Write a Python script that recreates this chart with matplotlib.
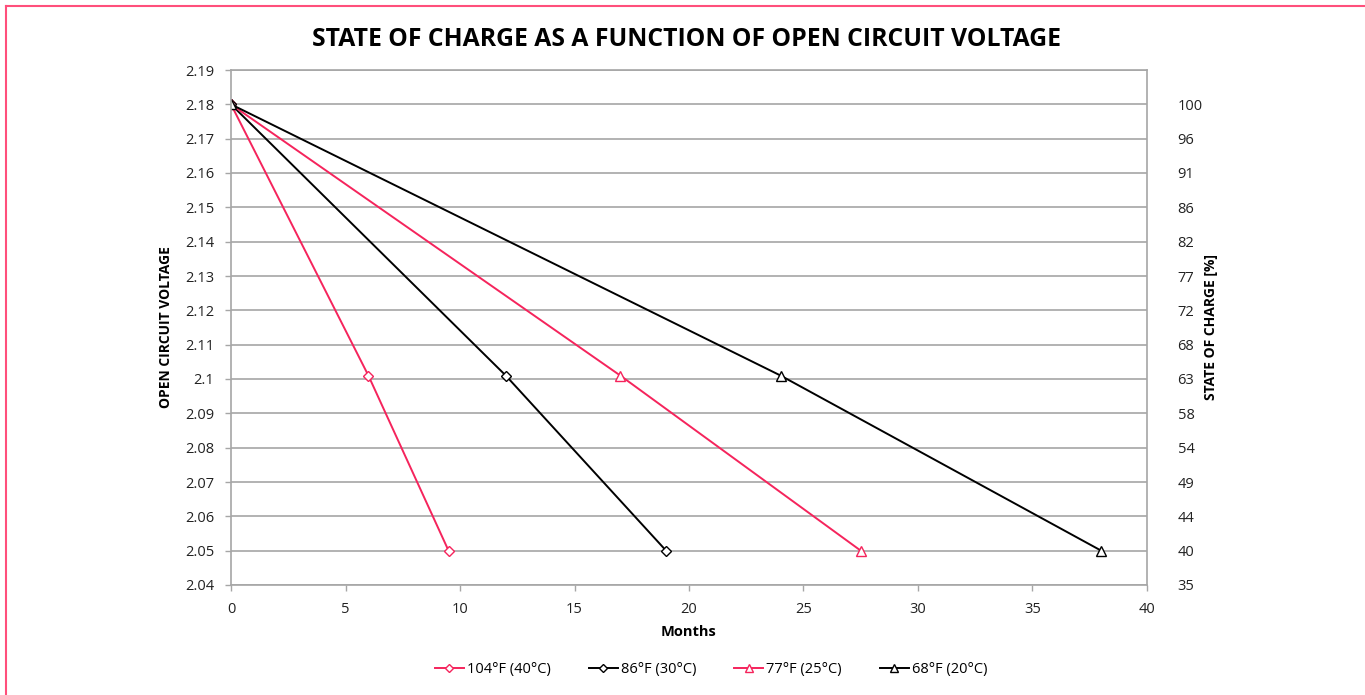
import matplotlib.pyplot as plt
from matplotlib.lines import Line2D

plt.rcParams['font.family'] = ['Open Sans', 'DejaVu Sans']

# data
series_names = ["104°F (40°C)", "86°F (30°C)", "77°F (25°C)", "68°F (20°C)"]
months_104 = [0, 6, 9.5]
months_86 = [0, 12, 19]
months_77 = [0, 17, 27.5]
months_68 = [0, 24, 38]
voltage = [2.18, 2.101, 2.05]

volt_ticks = [2.04, 2.05, 2.06, 2.07, 2.08, 2.09, 2.10, 2.11, 2.12, 2.13,
              2.14, 2.15, 2.16, 2.17, 2.18, 2.19]
volt_labels = ["2.04", "2.05", "2.06", "2.07", "2.08", "2.09", "2.1", "2.11",
               "2.12", "2.13", "2.14", "2.15", "2.16", "2.17", "2.18", "2.19"]
soc_labels = ["35", "40", "44", "49", "54", "58", "63", "68", "72", "77",
              "82", "86", "91", "96", "100"]

pink = "#f5245c"
grid_col = "#a6a6a6"

fig = plt.figure(figsize=(13.65, 6.95), dpi=100)
ax = fig.add_axes([231 / 1365, 1 - 585 / 695, (1147 - 231) / 1365, (585 - 70) / 695])

styles = [
    (months_104, pink, "D", 5),
    (months_86, "black", "D", 5),
    (months_77, pink, "^", 7),
    (months_68, "black", "^", 7),
]
for (xs, col, mk, ms), name in zip(styles, series_names):
    ax.plot(xs, voltage, color=col, lw=1.4, marker=mk, ms=ms,
            mfc="white", mec=col, mew=1.0, label=name)

ax.set_xlim(0, 40)
ax.set_ylim(2.04, 2.19)
ax.set_xticks(range(0, 41, 5))
ax.set_yticks(volt_ticks)
ax.set_yticklabels(volt_labels)
ax.yaxis.grid(True, color=grid_col, lw=1.2)
ax.set_axisbelow(True)
for s in ax.spines.values():
    s.set_color(grid_col)
    s.set_linewidth(1.2)
ax.tick_params(colors="#222222", labelsize=10.5, length=4, width=1, pad=8)
ax.tick_params(axis="both", color=grid_col)

ax.set_xlabel("Months", fontsize=10.5, fontweight="bold", labelpad=6)
ax.set_ylabel("OPEN CIRCUIT VOLTAGE", fontsize=10, fontweight="bold", labelpad=9)

ax2 = ax.twinx()
ax2.set_ylim(ax.get_ylim())
ax2.set_yticks(volt_ticks[:-1])
ax2.set_yticklabels(soc_labels)
ax2.tick_params(labelsize=10.5, length=0, pad=22, colors="#222222")
for s in ax2.spines.values():
    s.set_visible(False)
ax2.set_ylabel("STATE OF CHARGE [%]", fontsize=10, fontweight="bold", labelpad=1)

fig.text(686 / 1365, 1 - 39 / 695, "STATE OF CHARGE AS A FUNCTION OF OPEN CIRCUIT VOLTAGE",
         ha="center", va="center", fontsize=17.8, fontweight="bold")

ax.legend(loc="center", bbox_to_anchor=(0.524, -0.165), ncol=4, frameon=False,
          fontsize=10.5, handlelength=2.0, handletextpad=0.2, columnspacing=2.6,
          markerscale=0.8)

# pink frame on top and left edge
fig.add_artist(Line2D([5.5 / 1365, 1], [1 - 5.5 / 695] * 2, color="#ff4f7b", lw=1.5))
fig.add_artist(Line2D([5.5 / 1365] * 2, [0, 1 - 5.5 / 695], color="#ff4f7b", lw=1.5))

fig.savefig("out.png", dpi=100)
